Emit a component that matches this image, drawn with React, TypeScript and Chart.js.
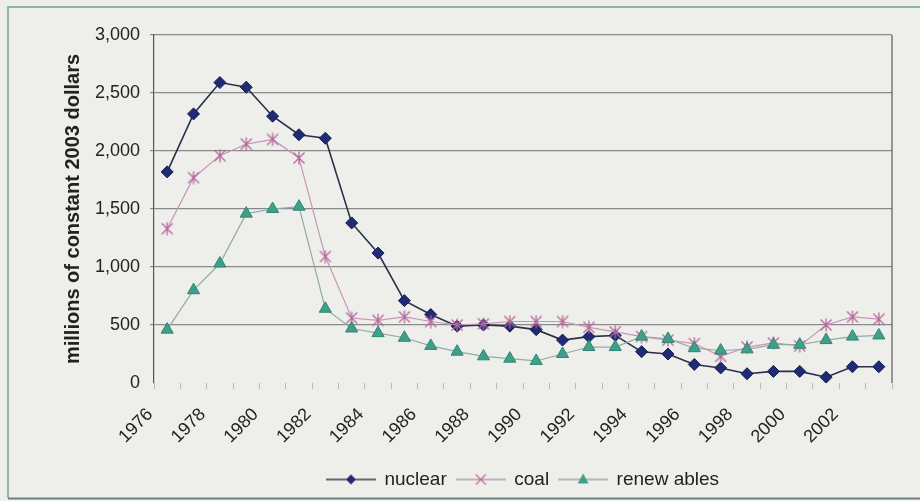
import React, { useEffect, useRef } from "react";
import { Chart, registerables } from "chart.js";

Chart.register(...registerables);

const FONT = "'Liberation Sans', Arial, sans-serif";

const years = [
  "1976", "1977", "1978", "1979", "1980", "1981", "1982", "1983", "1984", "1985",
  "1986", "1987", "1988", "1989", "1990", "1991", "1992", "1993", "1994", "1995",
  "1996", "1997", "1998", "1999", "2000", "2001", "2002", "2003",
];

const nuclear = [
  1820, 2320, 2590, 2550, 2300, 2140, 2110, 1380, 1120, 710,
  590, 490, 500, 490, 460, 370, 400, 410, 270, 250,
  160, 130, 80, 100, 100, 50, 140, 140,
];

const coal = [
  1330, 1770, 1960, 2060, 2100, 1940, 1090, 560, 540, 570,
  530, 500, 510, 530, 530, 530, 480, 440, 400, 370,
  340, 230, 310, 345, 320, 500, 570, 550,
];

const renewables = [
  460, 800, 1030, 1460, 1500, 1520, 640, 470, 430, 390,
  320, 270, 230, 210, 190, 250, 310, 310, 400, 380,
  300, 280, 290, 330, 330, 370, 400, 410,
];

const seriesLabels = ["nuclear", "coal", "renew ables"];

const COLORS = {
  nuclearLine: "#2b2f48",
  nuclearFill: "#1f2b74",
  nuclearEdge: "#151c50",
  coalLine: "#c895b8",
  coalMark: "#b5679c",
  renewLine: "#93aba4",
  renewFill: "#3f9f89",
  renewEdge: "#2e8673",
};

// Asterisk-style marker: an X crossed by a vertical stroke.
function makeStarMarker(size: number, color: string): HTMLCanvasElement {
  const c = document.createElement("canvas");
  c.width = size;
  c.height = size;
  const g = c.getContext("2d")!;
  g.strokeStyle = color;
  g.lineWidth = 1.3;
  const m = 1.5;
  g.beginPath();
  g.moveTo(m, m);
  g.lineTo(size - m, size - m);
  g.moveTo(size - m, m);
  g.lineTo(m, size - m);
  g.moveTo(size / 2, 0.5);
  g.lineTo(size / 2, size - 0.5);
  g.stroke();
  return c;
}

// Legend swatch: a short line segment with the series marker in the middle.
function makeLegendIcon(kind: "diamond" | "star" | "triangle", lineColor: string): HTMLCanvasElement {
  const w = 50;
  const h = 16;
  const c = document.createElement("canvas");
  c.width = w;
  c.height = h;
  const g = c.getContext("2d")!;
  const cy = h / 2;
  g.strokeStyle = lineColor;
  g.lineWidth = 1.3;
  g.beginPath();
  g.moveTo(0, cy);
  g.lineTo(w, cy);
  g.stroke();
  const cx = w / 2;
  if (kind === "diamond") {
    g.fillStyle = COLORS.nuclearFill;
    g.beginPath();
    g.moveTo(cx, cy - 5);
    g.lineTo(cx + 5, cy);
    g.lineTo(cx, cy + 5);
    g.lineTo(cx - 5, cy);
    g.closePath();
    g.fill();
  } else if (kind === "star") {
    g.strokeStyle = COLORS.coalMark;
    g.lineWidth = 1.1;
    g.beginPath();
    g.moveTo(cx - 5, cy - 5);
    g.lineTo(cx + 5, cy + 5);
    g.moveTo(cx + 5, cy - 5);
    g.lineTo(cx - 5, cy + 5);
    g.stroke();
  } else {
    g.fillStyle = COLORS.renewFill;
    g.beginPath();
    g.moveTo(cx, cy - 6);
    g.lineTo(cx + 5.5, cy + 4);
    g.lineTo(cx - 5.5, cy + 4);
    g.closePath();
    g.fill();
  }
  return c;
}

const backgroundPlugin = {
  id: "pageFrame",
  beforeDraw(chart: any) {
    const { ctx, width, height } = chart;
    ctx.save();
    ctx.fillStyle = "#eeeeea";
    ctx.fillRect(0, 0, width, height);
    ctx.strokeStyle = "#8db7a5";
    ctx.lineWidth = 2;
    ctx.beginPath();
    ctx.moveTo(width + 5, 7);
    ctx.lineTo(8, 7);
    ctx.lineTo(8, 498);
    ctx.stroke();
    ctx.strokeStyle = "#6e827a";
    ctx.beginPath();
    ctx.moveTo(8, 498.5);
    ctx.lineTo(width + 5, 498.5);
    ctx.stroke();
    ctx.restore();
  },
  beforeDatasetsDraw(chart: any) {
    const { ctx, chartArea } = chart;
    ctx.save();
    ctx.strokeStyle = "#5a5a5a";
    ctx.lineWidth = 1.2;
    ctx.beginPath();
    ctx.moveTo(chartArea.right, chartArea.top);
    ctx.lineTo(chartArea.right, chartArea.bottom);
    ctx.stroke();
    ctx.restore();
  },
};

export default function App() {
  const canvasRef = useRef<HTMLCanvasElement | null>(null);

  useEffect(() => {
    if (!canvasRef.current) return;
    const starMarker = makeStarMarker(14, COLORS.coalMark);
    const icons = [
      makeLegendIcon("diamond", "#3a3d52"),
      makeLegendIcon("star", "#b89aae"),
      makeLegendIcon("triangle", "#9aaca6"),
    ];

    const chart = new Chart(canvasRef.current, {
      type: "line",
      data: {
        labels: years,
        datasets: [
          {
            label: seriesLabels[0],
            data: nuclear,
            borderColor: COLORS.nuclearLine,
            borderWidth: 1.6,
            pointStyle: "rectRot",
            pointRadius: 6,
            pointBackgroundColor: COLORS.nuclearFill,
            pointBorderColor: COLORS.nuclearEdge,
            pointBorderWidth: 1,
            tension: 0,
            order: 3,
          },
          {
            label: seriesLabels[1],
            data: coal,
            borderColor: COLORS.coalLine,
            borderWidth: 1.2,
            pointStyle: starMarker,
            pointRadius: 7,
            tension: 0,
            order: 2,
          },
          {
            label: seriesLabels[2],
            data: renewables,
            borderColor: COLORS.renewLine,
            borderWidth: 1.2,
            pointStyle: "triangle",
            pointRadius: 7,
            pointBackgroundColor: COLORS.renewFill,
            pointBorderColor: COLORS.renewEdge,
            pointBorderWidth: 1,
            tension: 0,
            order: 1,
          },
        ],
      },
      options: {
        responsive: false,
        animation: false,
        devicePixelRatio: 1,
        layout: { padding: { top: 35, left: 61, right: 28, bottom: 2 } },
        plugins: {
          tooltip: { enabled: false },
          legend: {
            position: "bottom",
            fullSize: false,
            labels: {
              usePointStyle: true,
              pointStyleWidth: 48,
              padding: 10,
              font: { size: 19, family: FONT },
              color: "#222",
              generateLabels: () =>
                seriesLabels.map((text, i) => ({
                  text,
                  pointStyle: icons[i],
                  fillStyle: "transparent",
                  strokeStyle: "transparent",
                  lineWidth: 0,
                  hidden: false,
                  datasetIndex: i,
                  fontColor: "#222",
                })),
            },
          },
        },
        scales: {
          x: {
            offset: true,
            border: { display: false },
            grid: {
              offset: true,
              drawOnChartArea: false,
              drawTicks: true,
              tickLength: 6,
              color: "#b8b8b8",
            },
            ticks: {
              autoSkip: false,
              minRotation: 45,
              maxRotation: 45,
              padding: 15,
              labelOffset: -17,
              color: "#222",
              font: { size: 18, family: FONT },
              callback: (_v: any, i: number) => (i % 2 === 0 ? years[i] : ""),
            },
            afterFit: (s: any) => {
              s.height = 77;
            },
          },
          y: {
            min: 0,
            max: 3000,
            border: { display: true, color: "#555", width: 1.2 },
            grid: {
              color: (c: any) => (c.tick && c.tick.value === 0 ? "rgba(0,0,0,0)" : "#8a8a8a"),
              lineWidth: 1.2,
              tickLength: 4,
            },
            ticks: {
              stepSize: 500,
              padding: 10,
              color: "#222",
              font: { size: 18, family: FONT },
              callback: (v: any) => Number(v).toLocaleString("en-US"),
            },
            title: {
              display: true,
              text: "millions of constant 2003 dollars",
              color: "#222",
              font: { size: 20, weight: "bold", family: FONT },
              padding: 0,
            },
            afterFit: (s: any) => {
              s.width = 93;
            },
          },
        },
      },
      plugins: [backgroundPlugin],
    } as any);

    return () => chart.destroy();
  }, []);

  return (
    <div style={{ position: "fixed", left: 0, top: 0, width: 920, height: 501 }}>
      <canvas ref={canvasRef} width={920} height={501} style={{ display: "block" }} />
    </div>
  );
}
